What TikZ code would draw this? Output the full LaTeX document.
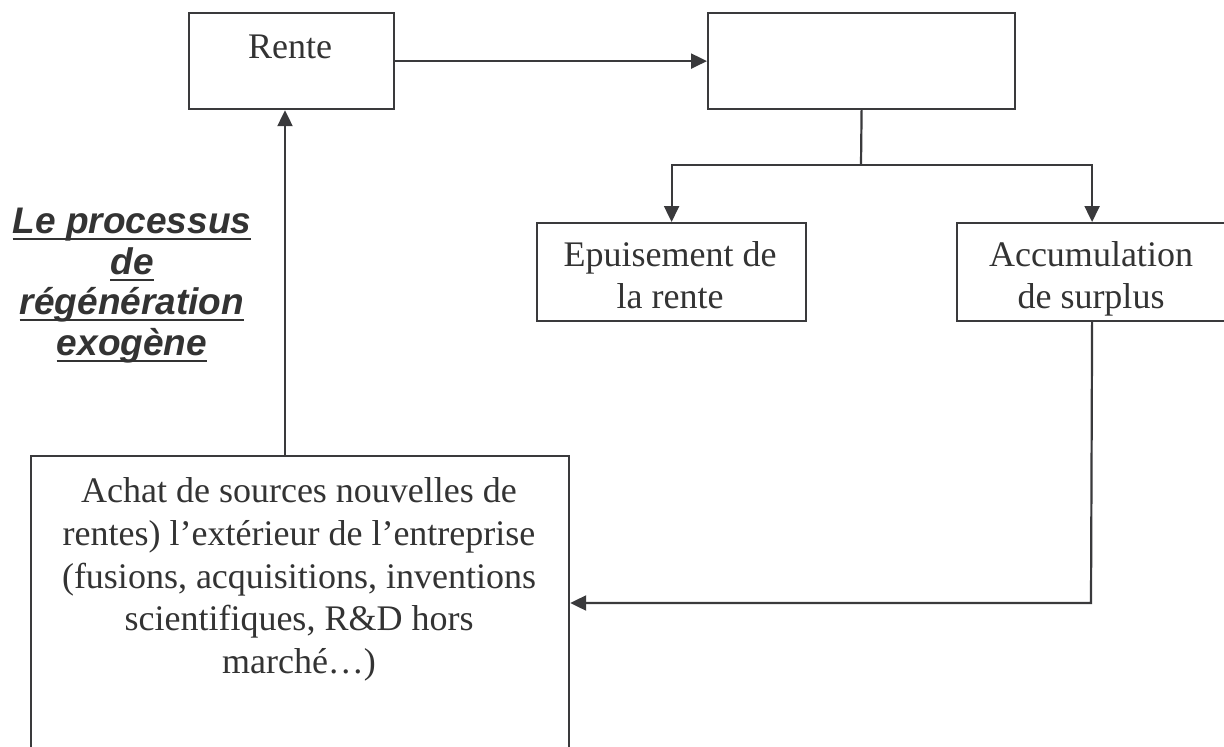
\documentclass[tikz,border=0pt]{standalone}
\usepackage{fontspec}
\setmainfont{Liberation Serif}
\setsansfont{Liberation Sans}
\usetikzlibrary{arrows.meta}
\definecolor{ink}{HTML}{3A3A3C}
\definecolor{txt}{HTML}{333333}
\tikzset{
  box/.style={draw=ink, line width=2.2pt, inner sep=0pt, anchor=north west, fill=white},
  conn/.style={draw=ink, line width=2.2pt},
  arr/.style={conn, -{Triangle[length=16pt,width=15pt]}},
  tline/.style={anchor=base, inner sep=0pt, text=txt, font=\fontsize{36}{43}\selectfont},
  lbl/.style={anchor=base, inner sep=0pt, text=txt, font=\fontsize{37}{40}\selectfont\sffamily\bfseries\itshape},
  uline/.style={draw=txt, line width=2.8pt}
}
\begin{document}
\begin{tikzpicture}[x=1pt,y=-1pt]
\useasboundingbox (0,0) rectangle (1224,747);
\clip (0,0) rectangle (1224,747);
\fill[white] (0,0) rectangle (1224,747);
% boxes
\node[box, minimum width=205pt, minimum height=96pt] (rente) at (188,12) {};
\node[box, minimum width=307pt, minimum height=96pt] (res) at (707,12) {};
\node[box, minimum width=269pt, minimum height=98pt] (epu) at (536,222) {};
\node[box, minimum width=270pt, minimum height=98pt] (acc) at (956,222) {};
\node[box, minimum width=538pt, minimum height=330pt] (achat) at (30,455) {};
% texts
\node[tline] (t1) at (290,58) {Rente};
\node[tline] (t2) at (670,266) {Epuisement de};
\node[tline] (t3) at (670,308) {la rente};
\node[tline] (t4) at (1091,266) {Accumulation};
\node[tline] (t5) at (1091,308) {de surplus};
\node[tline] (a1) at (299,502) {Achat de sources nouvelles de};
\node[tline] (a2) at (299,545) {rentes) l’extérieur de l’entreprise};
\node[tline] (a3) at (299,588) {(fusions, acquisitions, inventions};
\node[tline] (a4) at (299,630) {scientifiques, R\&D hors};
\node[tline] (a5) at (299,673) {marché…)};
% side label
\node[lbl] (l1) at (132,233) {Le processus};
\node[lbl] (l2) at (132,274) {de};
\node[lbl] (l3) at (132,314) {régénération};
\node[lbl] (l4) at (132,355) {exogène};
\foreach \n in {l1,l2,l3,l4}{
  \draw[uline] ([yshift=-6pt]\n.base west) -- ([yshift=-6pt]\n.base east);
}
% connectors
\coordinate (split) at (861,165);
\coordinate (turn) at (1091,603);
\coordinate (vx) at (285,0);
\draw[arr] (rente.east) -- (res.west);
\draw[conn] (res.south) -- (split);
\draw[arr] (split) -| (epu.north);
\draw[arr] (split) -| (acc.north);
\draw[arr] (acc.south) -- (turn) -- (turn -| achat.east);
\draw[arr] (achat.north -| vx) -- (rente.south -| vx);
\end{tikzpicture}
\end{document}
